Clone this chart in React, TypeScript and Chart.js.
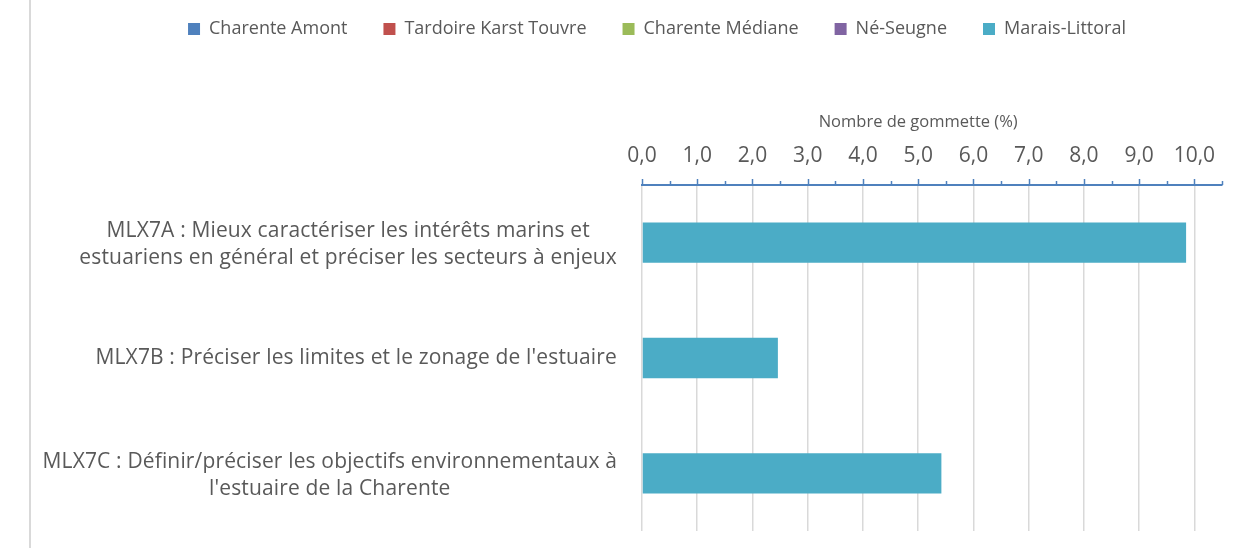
import React, { useEffect, useRef } from "react";
import { Chart, registerables } from "chart.js";

Chart.register(...registerables);

const categories: string[][] = [
  ["MLX7A : Mieux caractériser les intérêts marins et", "estuariens en général et préciser les secteurs à enjeux"],
  ["MLX7B : Préciser les limites et le zonage de l'estuaire"],
  ["MLX7C : Définir/préciser les objectifs environnementaux à", "l'estuaire de la Charente"],
];

const seriesNames = ["Charente Amont", "Tardoire Karst Touvre", "Charente Médiane", "Né-Seugne", "Marais-Littoral"];
const seriesColors = ["#4f81bd", "#c0504d", "#9bbb59", "#8064a2", "#4bacc6"];

const charenteAmont: (number | null)[] = [null, null, null];
const tardoireKarstTouvre: (number | null)[] = [null, null, null];
const charenteMediane: (number | null)[] = [null, null, null];
const neSeugne: (number | null)[] = [null, null, null];
const maraisLittoral: (number | null)[] = [9.85, 2.46, 5.42];

const xTickValues = [0, 0.5, 1, 1.5, 2, 2.5, 3, 3.5, 4, 4.5, 5, 5.5, 6, 6.5, 7, 7.5, 8, 8.5, 9, 9.5, 10, 10.5];
const xMin = 0;
const xMax = 10.5;
const xLabelMax = 10;
const axisTitle = "Nombre de gommette (%)";

const FONT = "'Open Sans', sans-serif";
const TEXT = "#595959";
const AXIS = "#4f81bd";

const decorPlugin = {
  id: "decor",
  afterDraw(chart: any) {
    const ctx = chart.ctx as CanvasRenderingContext2D;
    const xs = chart.scales.x;
    const ys = chart.scales.y;
    const area = chart.chartArea;
    const axisY = area.top;
    ctx.save();
    // tick marks
    ctx.strokeStyle = AXIS;
    ctx.lineWidth = 1.5;
    xs.ticks.forEach((t: any) => {
      const px = Math.round(xs.getPixelForValue(t.value)) + 0.5;
      const major = Number.isInteger(t.value);
      ctx.beginPath();
      ctx.moveTo(px, axisY + (major ? 1 : 0));
      ctx.lineTo(px, axisY - (major ? 6 : 4));
      ctx.stroke();
    });
    // axis title
    ctx.fillStyle = TEXT;
    ctx.font = `16.5px ${FONT}`;
    ctx.textAlign = "center";
    ctx.textBaseline = "middle";
    ctx.fillText(axisTitle, xs.getPixelForValue(xLabelMax / 2), axisY - 63);
    // category labels (each block centred, blocks right-aligned)
    ctx.font = `21px ${FONT}`;
    (ctx as any).letterSpacing = "0.15px";
    const right = area.left - 25;
    const lh = 27;
    (chart.data.labels as string[][]).forEach((lines, i) => {
      const cy = ys.getPixelForValue(i);
      const w = Math.max(...lines.map((l) => ctx.measureText(l).width));
      const cx = right - w / 2;
      lines.forEach((l, j) => {
        ctx.fillText(l, cx, cy + (j - (lines.length - 1) / 2) * lh + (lines.length > 1 ? 2 : 0));
      });
    });
    (ctx as any).letterSpacing = "0px";
    ctx.restore();
  },
};

export default function App() {
  const ref = useRef<HTMLCanvasElement | null>(null);
  useEffect(() => {
    if (!ref.current) return;
    const seriesData = [charenteAmont, tardoireKarstTouvre, charenteMediane, neSeugne, maraisLittoral];
    const chart = new Chart(ref.current, {
      type: "bar",
      data: {
        labels: categories as any,
        datasets: seriesNames.map((name, i) => ({
          label: name,
          data: seriesData[i] as any,
          backgroundColor: seriesColors[i],
          borderWidth: 0,
          barPercentage: 0.35,
          categoryPercentage: 1,
        })),
      },
      options: {
        indexAxis: "y",
        responsive: false,
        animation: false,
        layout: { padding: { left: 82, right: 6, top: -16, bottom: 17 } },
        plugins: {
          tooltip: { enabled: false },
          legend: {
            position: "top",
            align: "center",
            labels: {
              font: { family: FONT, size: 18 },
              color: TEXT,
              boxWidth: 12,
              boxHeight: 12,
              padding: 36,
            },
          },
        },
        scales: {
          x: {
            type: "linear",
            position: "top",
            stacked: true,
            min: xMin,
            max: xMax,
            afterBuildTicks: (s: any) => {
              s.ticks = xTickValues.map((v) => ({ value: v }));
            },
            afterFit: (s: any) => {
              s.height = 137;
            },
            ticks: {
              autoSkip: false,
              maxRotation: 0,
              padding: 16,
              color: TEXT,
              font: { family: FONT, size: 21 },
              callback: (v: any) => (Number.isInteger(v) && v <= xLabelMax ? Number(v).toFixed(1).replace(".", ",") : ""),
            },
            grid: {
              drawTicks: false,
              lineWidth: 1.5,
              color: (c: any) =>
                c.tick && Number.isInteger(c.tick.value) && c.tick.value <= xLabelMax ? "#d9d9d9" : "rgba(0,0,0,0)",
            },
            border: { display: true, color: AXIS, width: 2 },
          },
          y: {
            type: "category",
            stacked: true,
            afterFit: (s: any) => {
              s.width = 560;
            },
            ticks: { display: false },
            grid: { display: false },
            border: { display: false },
          },
        },
      },
      plugins: [decorPlugin],
    });
    return () => chart.destroy();
  }, []);

  return (
    <div style={{ position: "absolute", left: 0, top: 0, width: 1238, height: 548, background: "#fff" }}>
      <div style={{ position: "absolute", left: 29, top: 0, width: 2, height: 548, background: "#d9d9d9" }} />
      <canvas ref={ref} width={1238} height={548} style={{ position: "absolute", left: 0, top: 0 }} />
    </div>
  );
}
